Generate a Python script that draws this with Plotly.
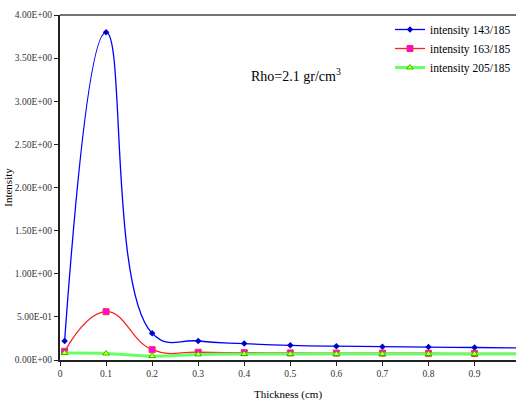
import plotly.graph_objects as go

thickness = [0.01, 0.1, 0.2, 0.3, 0.4, 0.5, 0.6, 0.7, 0.8, 0.9, 1.0]
int_143 = [0.22, 3.80, 0.31, 0.22, 0.19, 0.17, 0.16, 0.155, 0.15, 0.145, 0.14]
int_163 = [0.10, 0.56, 0.12, 0.09, 0.085, 0.082, 0.08, 0.08, 0.078, 0.076, 0.075]
int_205 = [0.08, 0.075, 0.045, 0.065, 0.07, 0.07, 0.07, 0.07, 0.07, 0.07, 0.07]

x_ticks = [0, 0.1, 0.2, 0.3, 0.4, 0.5, 0.6, 0.7, 0.8, 0.9]
x_labels = ["0", "0.1", "0.2", "0.3", "0.4", "0.5", "0.6", "0.7", "0.8", "0.9"]
y_ticks = [0, 0.5, 1.0, 1.5, 2.0, 2.5, 3.0, 3.5, 4.0]
y_labels = ["0.00E+00", "5.00E-01", "1.00E+00", "1.50E+00", "2.00E+00",
            "2.50E+00", "3.00E+00", "3.50E+00", "4.00E+00"]

font = "Liberation Serif"

fig = go.Figure()
fig.add_trace(go.Scatter(
    x=thickness, y=int_143, name="intensity 143/185", mode="lines+markers",
    line=dict(color="#0000ff", width=1.3, shape="spline", smoothing=1.3),
    marker=dict(symbol="diamond", size=5, color="#0000cc"),
))
fig.add_trace(go.Scatter(
    x=thickness, y=int_163, name="intensity 163/185", mode="lines+markers",
    line=dict(color="#ff2020", width=1.3, shape="spline", smoothing=1.3),
    marker=dict(symbol="square", size=6, color="#ff00ff",
                line=dict(color="#ff3030", width=1)),
))
fig.add_trace(go.Scatter(
    x=thickness, y=int_205, name="intensity 205/185", mode="lines+markers",
    line=dict(color="#66ff66", width=3, shape="spline", smoothing=1.0),
    marker=dict(symbol="triangle-up", size=6, color="#ffff00",
                line=dict(color="#00cc00", width=1)),
))

fig.add_annotation(
    x=0.513, y=3.3, xref="x", yref="y", showarrow=False,
    text="Rho=2.1 gr/cm<sup>3</sup>", font=dict(family=font, size=14, color="black"),
)

fig.update_layout(
    width=516, height=402,
    margin=dict(l=60, r=0, t=15, b=42),
    paper_bgcolor="white", plot_bgcolor="white",
    font=dict(family=font, size=9.5, color="#333333"),
    showlegend=True,
    legend=dict(x=1.0, y=1.0, xanchor="right", yanchor="top",
                bgcolor="rgba(0,0,0,0)", font=dict(family=font, size=11.5, color="black"),
                itemwidth=30, tracegroupgap=0),
)
fig.update_xaxes(
    range=[0, 0.99], tickvals=x_ticks, ticktext=x_labels,
    tickfont=dict(family=font, size=9.5, color="#333333"),
    showgrid=False, zeroline=False, showline=True, linecolor="#222222", linewidth=2,
    ticks="outside", ticklen=4, tickcolor="#222222",
    title=dict(text="Thickness (cm)", font=dict(family=font, size=11, color="black"), standoff=12),
    mirror=False,
)
fig.update_yaxes(
    range=[0, 4.0], tickvals=y_ticks, ticktext=y_labels,
    tickfont=dict(family=font, size=9.5, color="#333333"),
    showgrid=False, zeroline=False, showline=True, linecolor="#222222", linewidth=2,
    ticks="outside", ticklen=4, tickcolor="#222222",
    title=dict(text="Intensity", font=dict(family=font, size=11, color="black"), standoff=0),
)
fig.add_shape(type="line", xref="paper", yref="paper", x0=0, x1=1, y0=1, y1=1,
              line=dict(color="#444444", width=1.5))

fig.write_html("out.html")
